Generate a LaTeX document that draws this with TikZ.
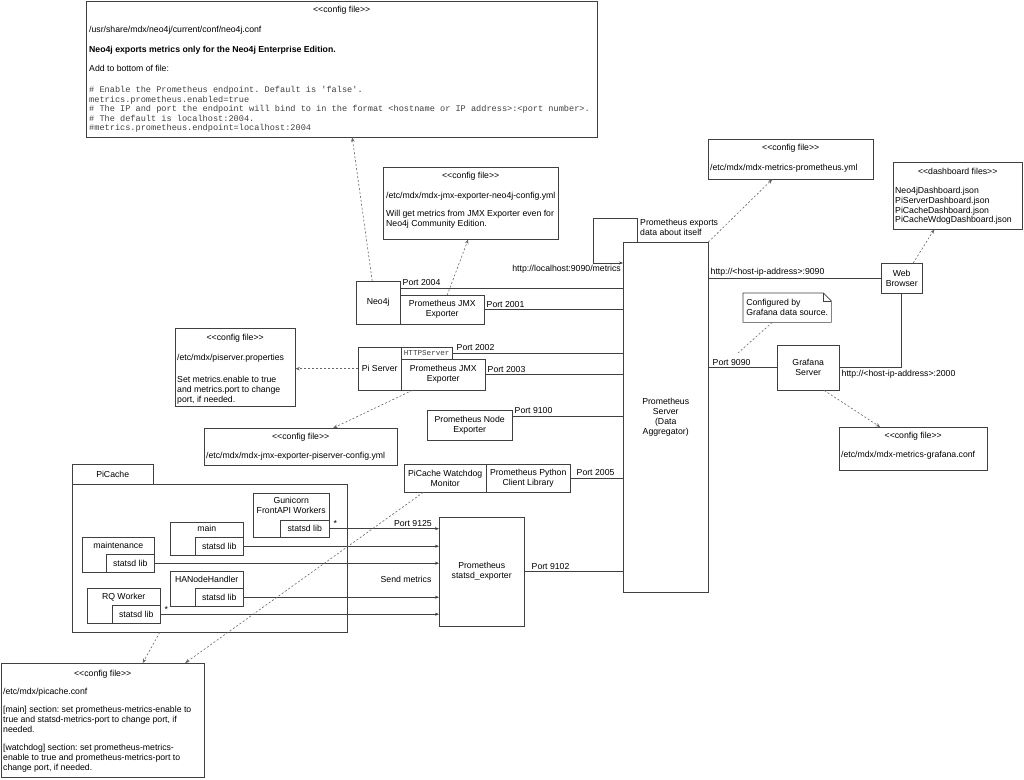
\documentclass[tikz,border=0pt]{standalone}
\usepackage{fontspec}
\setmainfont{Liberation Sans}
\setmonofont{Liberation Mono}
\usetikzlibrary{positioning,arrows.meta}
\frenchspacing

\newcommand\stereo[1]{<\kern0pt<#1>\kern0pt>}
\newcommand\codefont{\ttfamily\fontsize{8.6}{9.5}\selectfont\color{black!75}}
\definecolor{linec}{gray}{0.25}
\definecolor{depc}{gray}{0.4}

\tikzset{
  every node/.style={font=\fontsize{8.7}{10}\selectfont, text=black},
  box/.style={draw=linec, fill=white, anchor=north west, align=center, inner sep=1pt},
  conftext/.style={align=left, inner sep=1pt},
  boxhdr/.style={align=center, inner sep=1pt},
  portlbl/.style={anchor=south west, inner sep=2pt},
  wire/.style={draw=linec, line width=0.6pt},
  feed/.style={wire, -{Stealth[length=4pt,width=3pt]}},
  dots/.style={draw=depc, line width=0.6pt, dash pattern=on 2pt off 2pt},
  dep/.style={dots, -{Stealth[length=4.5pt,width=3.5pt]}},
}

\begin{document}
\begin{tikzpicture}[x=1pt,y=-1pt]
  \useasboundingbox (0,0) rectangle (1024,779);
  \fill[white] (0,0) rectangle (1024,779);

  % neo4j config file
  \node[box, minimum width=511pt, minimum height=136pt] (neoconf) at (86,1) {};
  \node[boxhdr, below=4pt of neoconf.north] (neohdr) {\stereo{config file}};
  \node[conftext, font=\fontsize{8.7}{9.5}\selectfont, below right=24pt and 2pt of neoconf.north west] (neotext) {%
    /usr/share/mdx/neo4j/current/conf/neo4j.conf\\[10pt]
    \textbf{Neo4j exports metrics only for the Neo4j Enterprise Edition.}\\[10pt]
    Add to bottom of file:\\[11.5pt]
    {\codefont\# Enable the Prometheus endpoint. Default is 'false'.}\\
    {\codefont metrics.prometheus.enabled=true}\\
    {\codefont\# The IP and port the endpoint will bind to in the format <hostname or IP address>:<port number>.}\\
    {\codefont\# The default is localhost:2004.}\\
    {\codefont\#metrics.prometheus.endpoint=localhost:2004}};

  % neo4j and its exporter
  \node[box, minimum width=175pt, minimum height=72pt] (jmxneoconf) at (383,167) {};
  \node[boxhdr, below=4pt of jmxneoconf.north] (jmxneohdr) {\stereo{config file}};
  \node[conftext, below right=24pt and 2pt of jmxneoconf.north west] (jmxneotext) {%
    /etc/mdx/mdx-jmx-exporter-neo4j-config.yml\\[8pt]
    Will get metrics from JMX Exporter even for\\
    Neo4j Community Edition.};
  \node[box, minimum width=44pt, minimum height=43pt] (neo4j) at (356,281) {Neo4j};
  \node[box, minimum width=84pt, minimum height=29pt] (neojmx) at (400,295) {Prometheus JMX\\Exporter};

  % prometheus server
  \node[box, minimum width=85pt, minimum height=350pt] (server) at (623,242) {Prometheus\\Server\\(Data\\Aggregator)};
  \node[box, minimum width=165pt, minimum height=40pt] (promconf) at (708,139) {};
  \node[boxhdr, below=4pt of promconf.north] (promhdr) {\stereo{config file}};
  \node[conftext, below right=24pt and 1pt of promconf.north west] (promtext) {/etc/mdx/mdx-metrics-prometheus.yml};

  % grafana and browser
  \node[box, minimum width=129pt, minimum height=67pt] (dash) at (893,162) {};
  \node[boxhdr, below=5pt of dash.north] (dashhdr) {\stereo{dashboard files}};
  \node[conftext, font=\fontsize{8.7}{9.8}\selectfont, below right=24pt and 1pt of dash.north west] (dashtext) {%
    Neo4jDashboard.json\\
    PiServerDashboard.json\\
    PiCacheDashboard.json\\
    PiCacheWdogDashboard.json};
  \node[box, minimum width=41pt, minimum height=30pt] (browser) at (881,263) {Web\\Browser};
  \node[box, minimum width=62pt, minimum height=45pt] (grafana) at (777,345) {Grafana\\Server};
  \node[anchor=north west, minimum width=88pt, minimum height=29pt, align=left, inner sep=3pt] (note) at (743,293) {Configured by\\Grafana data source.};
  \draw[linec, line width=0.6pt] (note.north west) -- ([xshift=-8pt]note.north east) -- ([yshift=-8pt]note.north east)
    -- (note.south east) -- (note.south west) -- cycle;
  \draw[linec, line width=0.6pt] ([xshift=-8pt]note.north east) |- ([yshift=-8pt]note.north east);
  \node[box, minimum width=148pt, minimum height=43pt] (grafconf) at (839,427) {};
  \node[boxhdr, below=4pt of grafconf.north] (grafhdr) {\stereo{config file}};
  \node[conftext, below right=23pt and 1pt of grafconf.north west] (graftext) {/etc/mdx/mdx-metrics-grafana.conf};

  % pi server
  \node[box, minimum width=43pt, minimum height=43pt] (piserver) at (358,347) {Pi Server};
  \node[box, minimum width=51pt, minimum height=12pt, font=\ttfamily\fontsize{7.6}{8}\selectfont, text=black!75] (httpsrv) at (401,347) {HTTPServer};
  \node[box, minimum width=84pt, minimum height=31pt] (pijmx) at (401,359) {Prometheus JMX\\Exporter};
  \node[box, minimum width=120pt, minimum height=78pt] (piconf) at (175,328) {};
  \node[boxhdr, below=5pt of piconf.north] (pihdr) {\stereo{config file}};
  \node[conftext, below right=25pt and 1pt of piconf.north west] (pitext) {%
    /etc/mdx/piserver.properties\\[11.5pt]
    Set metrics.enable to true\\
    and metrics.port to change\\
    port, if needed.};
  \node[box, minimum width=193pt, minimum height=37pt] (pijmxconf) at (204,428) {};
  \node[boxhdr, below=4pt of pijmxconf.north] (pijmxhdr) {\stereo{config file}};
  \node[conftext, below right=23pt and 1pt of pijmxconf.north west] (pijmxtext) {/etc/mdx/mdx-jmx-exporter-piserver-config.yml};
  \node[box, minimum width=85pt, minimum height=30pt] (nodeexp) at (427,410) {Prometheus Node\\Exporter};

  % picache
  \node[box, minimum width=82pt, minimum height=28pt] (watchdog) at (404,464) {PiCache Watchdog\\Monitor};
  \node[box, minimum width=84pt, minimum height=28pt] (pyclient) at (486,464) {Prometheus Python\\Client Library};
  \node[box, minimum width=81pt, minimum height=20pt] (pitab) at (72,464) {PiCache};
  \node[box, minimum width=275pt, minimum height=148pt] (picache) at (72,484) {};
  \node[box, minimum width=76pt, minimum height=44pt] (guni) at (253,493) {};
  \node[boxhdr, below=3pt of guni.north] (gunihdr) {Gunicorn\\FrontAPI Workers};
  \node[box, minimum width=49pt, minimum height=17pt] (gunistatsd) at (280,520) {statsd lib};
  \node[box, minimum width=73pt, minimum height=33pt] (main) at (170,522) {};
  \node[boxhdr, below=2pt of main.north] (mainhdr) {main};
  \node[box, minimum width=48pt, minimum height=18pt] (mainstatsd) at (195,537) {statsd lib};
  \node[box, minimum width=72pt, minimum height=35pt] (maint) at (82,537) {};
  \node[boxhdr, below=4pt of maint.north] (mainthdr) {maintenance};
  \node[box, minimum width=48pt, minimum height=18pt] (maintstatsd) at (106,554) {statsd lib};
  \node[box, minimum width=73pt, minimum height=35pt] (hanode) at (170,571) {};
  \node[boxhdr, below=4pt of hanode.north] (hanodehdr) {HANodeHandler};
  \node[box, minimum width=48pt, minimum height=18pt] (hanodestatsd) at (195,588) {statsd lib};
  \node[box, minimum width=73pt, minimum height=35pt] (rq) at (87,588) {};
  \node[boxhdr, below=4pt of rq.north] (rqhdr) {RQ Worker};
  \node[box, minimum width=48pt, minimum height=18pt] (rqstatsd) at (112,605) {statsd lib};
  \node[box, minimum width=85pt, minimum height=109pt] (statsdexp) at (439,517) {Prometheus\\statsd\_exporter};
  \node (sendlbl) at (406,579) {Send metrics};
  \node[box, minimum width=203pt, minimum height=114pt] (picacheconf) at (1,663) {};
  \node[boxhdr, below=6pt of picacheconf.north] (picachehdr) {\stereo{config file}};
  \node[conftext, below right=24pt and 1pt of picacheconf.north west] (picachetext) {%
    /etc/mdx/picache.conf\\[8pt]
    {[main]} section: set prometheus-metrics-enable to\\
    true and statsd-metrics-port to change port, if\\
    needed.\\[8pt]
    {[watchdog]} section: set prometheus-metrics-\\
    enable to true and prometheus-metrics-port to\\
    change port, if needed.};

  % statsd traffic
  \foreach \lib in {gunistatsd, mainstatsd, maintstatsd, hanodestatsd, rqstatsd}{
    \draw[feed] (\lib.east) -- (\lib.east -| statsdexp.west);
  }
  \node[anchor=south west, inner sep=2pt, xshift=2pt] (gunistar) at (gunistatsd.east) {*};
  \node[anchor=south west, inner sep=2pt, xshift=2pt] (rqstar) at (rqstatsd.east) {*};
  \node[anchor=south east, inner sep=2pt, xshift=-5pt] (l9125) at (gunistatsd.east -| statsdexp.west) {Port 9125};

  % scrape targets
  \coordinate (p2004) at ([yshift=-7pt]neo4j.north east);
  \draw[wire] (p2004) -- (p2004 -| server.west) node[portlbl, pos=0] (l2004) {Port 2004};
  \draw[wire] (neojmx.east) -- (neojmx.east -| server.west) node[portlbl, pos=0] (l2001) {Port 2001};
  \draw[wire] (httpsrv.east) -- (httpsrv.east -| server.west) node[portlbl, pos=0, xshift=2pt] (l2002) {Port 2002};
  \draw[wire] (pijmx.east) -- (pijmx.east -| server.west) node[portlbl, pos=0] (l2003) {Port 2003};
  \coordinate (p9100) at ([yshift=-6pt]nodeexp.north east);
  \draw[wire] (p9100) -- (p9100 -| server.west) node[portlbl, pos=0] (l9100) {Port 9100};
  \draw[wire] (pyclient.east) -- (pyclient.east -| server.west) node[portlbl, pos=0, xshift=4pt] (l2005) {Port 2005};
  \draw[wire] (statsdexp.east) -- (statsdexp.east -| server.west) node[portlbl, pos=0, xshift=5pt] (l9102) {Port 9102};

  % prometheus scrapes itself
  \coordinate (loopstart) at ([xshift=14pt]server.north west);
  \coordinate (loopcorner) at (593,218);
  \draw[feed] (loopstart) |- (loopcorner) |- ([yshift=-21pt]server.north west)
    node[anchor=north east, inner sep=2pt] (lmetrics) {http://localhost:9090/metrics};
  \node[anchor=north west, align=left, inner sep=1pt, xshift=2pt] (lexports) at (loopstart |- loopcorner) {Prometheus exports\\data about itself};

  % grafana and browser links
  \draw[wire] (browser.west -| server.east) -- (browser.west) node[portlbl, pos=0] (lweb) {http://<host-ip-address>:9090};
  \draw[wire] (grafana.west -| server.east) -- (grafana.west) node[portlbl, pos=0, xshift=2pt] (l9090) {Port 9090};
  \draw[wire] (browser.south) |- (grafana.east) node[anchor=north west, inner sep=2pt] (l2000) {http://<host-ip-address>:2000};

  % config dependencies
  \coordinate (notetip) at (738,353);
  \draw[dots] ([xshift=-15pt]note.south) -- (notetip);
  \draw[dep] ([xshift=-6pt]neo4j.north) -- ([xshift=10.5pt]neoconf.south);
  \draw[dep] ([xshift=5pt]neojmx.north) -- ([xshift=-2.5pt]jmxneoconf.south);
  \draw[dep] (server.north east) -- ([xshift=-18.5pt]promconf.south);
  \draw[dep] ([xshift=11.5pt]browser.north) -- ([xshift=-23.5pt]dash.south);
  \draw[dep] ([xshift=16pt]grafana.south) -- ([xshift=-33pt]grafconf.north);
  \draw[dep] (piserver.west) -- (piserver.west -| piconf.east);
  \draw[dep] ([xshift=-31pt]pijmx.south) -- ([xshift=32.5pt]pijmxconf.north);
  \draw[dep] ([xshift=-22pt]watchdog.south) -- ([xshift=82.5pt]picacheconf.north);
  \draw[dep] ([xshift=-50pt]picache.south) -- ([xshift=40pt]picacheconf.north);
\end{tikzpicture}
\end{document}
